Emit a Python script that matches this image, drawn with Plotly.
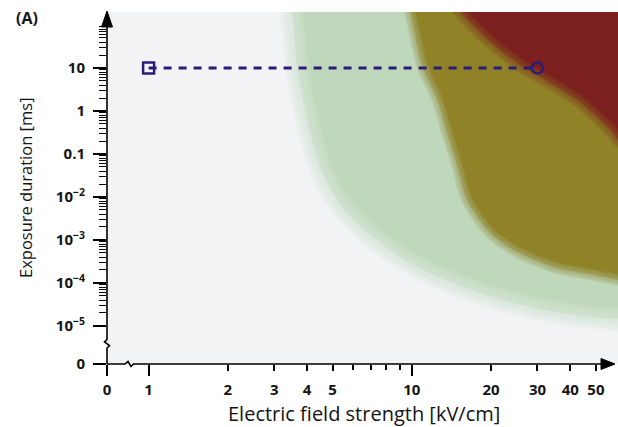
import plotly.graph_objects as go

# ---------------- data ----------------
# Boundary between background and the green band (kV/cm, ms)
green_x = [3.45, 3.51, 3.67, 4.11, 4.49, 5.21, 6.77, 10.5, 14.3, 22.2, 36.6, 60.7, 75.0]
green_y = [300, 190, 10.5, 0.308, 0.05, 0.0085, 1.46e-3, 2.35e-4, 1.0e-4, 4.0e-5, 2.0e-5, 1.4e-5, 1.2e-5]

# Boundary between green band and olive band
olive_x = [9.7, 9.84, 11.0, 12.5, 13.6, 14.9, 16.2, 19.8, 24.3, 34.4, 48.9, 60.7, 75.0]
olive_y = [300, 200, 10.5, 1.8, 0.308, 0.05, 0.0085, 1.46e-3, 5.85e-4, 2.35e-4, 1.53e-4, 1.17e-4, 0.95e-4]

# Boundary between olive band and red region
red_x = [14.5, 15.3, 18.2, 21.6, 26.4, 33.5, 42.4, 50.5, 58.0, 60.7, 75.0]
red_y = [300, 200, 65, 26, 10.5, 4.5, 1.8, 0.72, 0.308, 0.21, 0.1]

# Exposure protocol (dashed line)
pulse_x = [1, 30]
pulse_y = [10, 10]

# Axis ticks
X_ZERO = 0.695      # position standing in for "0" on the broken log axis
Y_ZERO = 1.3e-6
x_tickvals = [X_ZERO, 1, 2, 3, 4, 5, 10, 20, 30, 40, 50]
x_ticktext = ["0", "1", "2", "3", "4", "5", "10", "20", "30", "40", "50"]
x_minor = [6, 7, 8, 9]
x_long = [X_ZERO, 1, 10]
y_tickvals = [Y_ZERO, 1e-5, 1e-4, 1e-3, 1e-2, 0.1, 1, 10]
y_ticktext = ["0", "10<sup>−5</sup>", "10<sup>−4</sup>", "10<sup>−3</sup>",
              "10<sup>−2</sup>", "0.1", "1", "10"]
y_minor = [m * 10.0 ** e for e in range(-5, 2) for m in range(2, 10)]

X_RANGE = [-0.158, 1.783]
Y_RANGE = [-5.886, 2.302]
X_FAR, Y_FAR = 200.0, 5000.0

# colours
BG = "#F2F3F5"
GREEN = "#BFD7BA"
OLIVE = "#8F8227"
RED = "#7B1F1F"
NAVY = "#2B1C78"

FONT = "'Open Sans', Lato, sans-serif"

fig = go.Figure()


def region(bx, by, color):
    xs = list(bx) + [X_FAR, X_FAR, bx[0]]
    ys = list(by) + [by[-1], Y_FAR, Y_FAR]
    fig.add_trace(go.Scatter(x=xs, y=ys, mode="lines", fill="toself",
                             fillcolor=color, line=dict(width=0, shape="spline", smoothing=0.8),
                             hoverinfo="skip", showlegend=False))


def soften(bx, by, rgb, width, n=6):
    for i in range(n):
        w = width * (n - i) / n
        fig.add_trace(go.Scatter(x=bx, y=by, mode="lines",
                                 line=dict(color="rgba(%d,%d,%d,0.2)" % rgb,
                                           width=w, shape="spline", smoothing=0.8),
                                 hoverinfo="skip", showlegend=False))


region(green_x, green_y, GREEN)
region(olive_x, olive_y, OLIVE)
region(red_x, red_y, RED)
soften(green_x, green_y, (0xD8, 0xE5, 0xD7), 24)
soften(olive_x, olive_y, (0xA7, 0xAC, 0x70), 12)
soften(red_x, red_y, (0x85, 0x50, 0x23), 14)

fig.add_trace(go.Scatter(
    x=pulse_x, y=pulse_y, mode="lines+markers",
    line=dict(color=NAVY, width=3, dash="8px,7px"),
    marker=dict(symbol=["square-open", "circle-open"], size=11, color=NAVY,
                line=dict(color=NAVY, width=2.5)),
    hoverinfo="skip", showlegend=False))

# invisible trace for overlay axis with long ticks
fig.add_trace(go.Scatter(x=[1], y=[10], xaxis="x2", mode="markers",
                         marker=dict(opacity=0), hoverinfo="skip", showlegend=False))

# ---------------- layout ----------------
PL, PR, PT, PB = 107, 618, 12, 364


def fx(p):
    return (p - PL) / (PR - PL)


def fy(p):
    return (PB - p) / (PB - PT)


tickfont = dict(family=FONT, size=15, color="#141414", weight="bold")

fig.update_layout(
    width=618, height=427,
    margin=dict(l=PL, r=618 - PR, t=PT, b=427 - PB, autoexpand=False),
    paper_bgcolor="white", plot_bgcolor=BG,
    xaxis=dict(type="log", range=X_RANGE, showgrid=False, zeroline=False, automargin=False,
               showline=False, tickmode="array", tickvals=x_tickvals,
               ticktext=x_ticktext, ticks="outside", ticklen=6, tickwidth=1.5,
               tickcolor="black", tickfont=tickfont, ticklabelstandoff=6,
               minor=dict(tickmode="array", tickvals=x_minor, ticks="outside",
                          ticklen=5, tickwidth=1.5, tickcolor="black", showgrid=False)),
    xaxis2=dict(type="log", range=X_RANGE, overlaying="x", anchor="y", side="bottom",
                showgrid=False, zeroline=False, showline=False, tickmode="array", automargin=False,
                tickvals=x_long, ticks="outside", ticklen=11, tickwidth=1.5,
                tickcolor="black", showticklabels=False),
    yaxis=dict(type="log", range=Y_RANGE, showgrid=False, zeroline=False, automargin=False,
               showline=False, tickmode="array", tickvals=y_tickvals,
               ticktext=y_ticktext, ticks="outside", ticklen=13, tickwidth=1.5,
               tickcolor="black", tickfont=tickfont, ticklabelstandoff=5,
               minor=dict(tickmode="array", tickvals=y_minor, ticks="outside",
                          ticklen=7, tickwidth=1.2, tickcolor="black", showgrid=False)),
)

# axis lines with break marks and arrows
xpath = "M %f %f L %f %f L %f %f L %f %f L %f %f L %f %f" % (
    fx(107), fy(364), fx(125), fy(364), fx(128), fy(361.5), fx(131), fy(366.5),
    fx(133.5), fy(364), fx(604), fy(364))
ypath = "M %f %f L %f %f L %f %f L %f %f L %f %f L %f %f" % (
    fx(107), fy(364), fx(107), fy(348), fx(109.5), fy(345.5), fx(104.5), fy(342),
    fx(107), fy(339.5), fx(107), fy(24))
for p in (xpath, ypath):
    fig.add_shape(type="path", path=p, xref="paper", yref="paper",
                  line=dict(color="black", width=1.6), layer="above")

arrow_top = "M %f %f L %f %f L %f %f Z" % (fx(107), fy(11), fx(101.5), fy(27), fx(112.5), fy(27))
arrow_right = "M %f %f L %f %f L %f %f Z" % (fx(615), fy(364), fx(601), fy(358.5), fx(601), fy(369.5))
for p in (arrow_top, arrow_right):
    fig.add_shape(type="path", path=p, xref="paper", yref="paper",
                  line=dict(color="black", width=1), fillcolor="black", layer="above")

fig.add_annotation(text="<b>(A)</b>", xref="paper", yref="paper", x=fx(27), y=fy(18),
                   xanchor="center", yanchor="middle",
                   showarrow=False, font=dict(family=FONT, size=16, color="#141414"))
fig.add_annotation(text="Exposure duration [ms]", xref="paper", yref="paper",
                   x=fx(25), y=fy(188), xanchor="center", yanchor="middle",
                   textangle=-90, showarrow=False,
                   font=dict(family=FONT, size=16.5, color="#141414"))
fig.add_annotation(text="Electric field strength [kV/cm]", xref="paper", yref="paper",
                   x=fx(364), y=fy(413), xanchor="center", yanchor="middle", showarrow=False,
                   font=dict(family=FONT, size=20, color="#141414"))

fig.write_html("out.html", config={"displayModeBar": False},
               post_script="document.body.style.margin='0px';")
